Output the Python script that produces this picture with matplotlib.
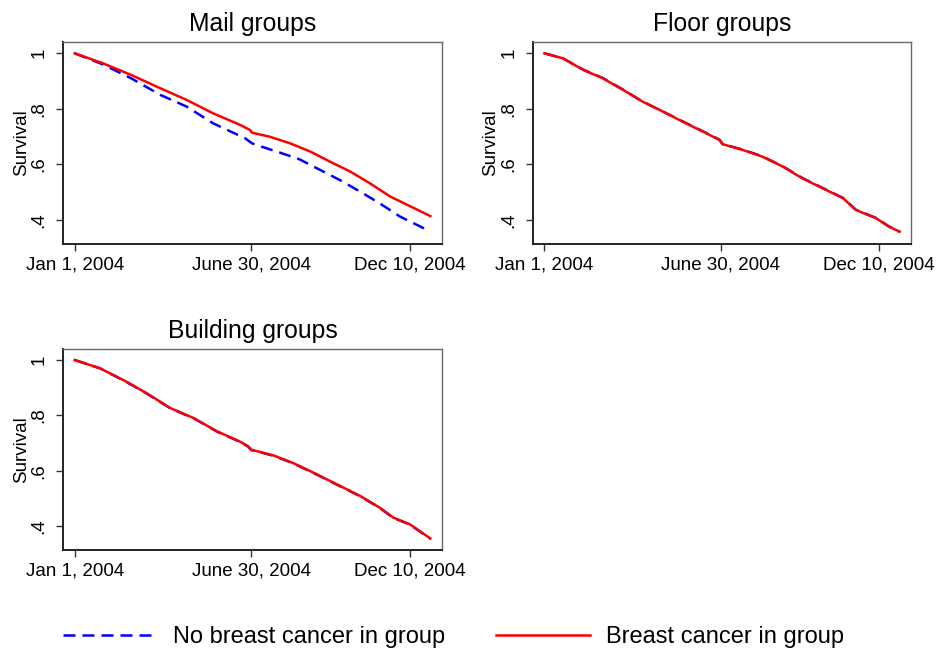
import matplotlib
matplotlib.use("Agg")
import matplotlib.pyplot as plt
from matplotlib.lines import Line2D

plt.rcParams['font.family'] = ['Liberation Sans', 'DejaVu Sans']

# ---- data (days since Jan 1, 2004 ; survival) ----
mail_red_days = [0, 29, 58, 88, 115, 142, 170, 180, 182, 200, 221, 242, 262, 283, 303, 324, 344, 365]
mail_red_surv = [1.0, 0.964, 0.922, 0.874, 0.832, 0.784, 0.742, 0.724, 0.714, 0.700, 0.676, 0.646, 0.610, 0.574, 0.532, 0.484, 0.450, 0.414]

mail_blue_days = [0, 29, 58, 88, 115, 142, 175, 182, 190, 211, 231, 252, 272, 293, 313, 334, 355, 365]
mail_blue_surv = [1.0, 0.960, 0.910, 0.850, 0.808, 0.748, 0.694, 0.676, 0.666, 0.642, 0.618, 0.580, 0.544, 0.502, 0.460, 0.412, 0.376, 0.358]

floor_red_days = [0, 19, 40, 60, 81, 101, 122, 142, 163, 180, 183, 204, 224, 245, 265, 286, 307, 320, 341, 354, 365]
floor_red_surv = [1.0, 0.982, 0.940, 0.910, 0.868, 0.826, 0.790, 0.754, 0.718, 0.688, 0.673, 0.652, 0.628, 0.592, 0.550, 0.514, 0.478, 0.436, 0.406, 0.376, 0.358]
floor_blue_days = [0, 19, 40, 60, 81, 101, 122, 142, 163, 180, 183, 204, 224, 245, 265, 286, 307, 320, 341, 354, 365]
floor_blue_surv = [1.0, 0.982, 0.941, 0.911, 0.869, 0.826, 0.790, 0.755, 0.719, 0.689, 0.673, 0.653, 0.629, 0.593, 0.551, 0.515, 0.479, 0.437, 0.407, 0.377, 0.358]

bldg_red_days = [0, 26, 53, 74, 98, 122, 146, 169, 178, 181, 204, 224, 245, 269, 293, 313, 327, 344, 365]
bldg_red_surv = [1.0, 0.970, 0.922, 0.880, 0.827, 0.791, 0.743, 0.707, 0.689, 0.677, 0.656, 0.629, 0.594, 0.552, 0.510, 0.468, 0.432, 0.408, 0.357]
bldg_blue_days = [0, 26, 53, 74, 98, 122, 146, 169, 178, 181, 204, 224, 245, 269, 293, 313, 327, 344, 365]
bldg_blue_surv = [1.0, 0.970, 0.921, 0.879, 0.826, 0.790, 0.742, 0.706, 0.688, 0.676, 0.655, 0.628, 0.593, 0.551, 0.509, 0.467, 0.431, 0.407, 0.356]

titles = ["Mail groups", "Floor groups", "Building groups"]
xtick_days = [0, 181, 344]
xtick_labels = ["Jan 1, 2004", "June 30, 2004", "Dec 10, 2004"]
ytick_vals = [0.4, 0.6, 0.8, 1.0]
ytick_labels = [".4", ".6", ".8", "1"]
legend_labels = ["No breast cancer in group", "Breast cancer in group"]

panels = [
    (titles[0], mail_blue_days, mail_blue_surv, mail_red_days, mail_red_surv),
    (titles[1], floor_blue_days, floor_blue_surv, floor_red_days, floor_red_surv),
    (titles[2], bldg_blue_days, bldg_blue_surv, bldg_red_days, bldg_red_surv),
]

W, H = 936, 650
fig = plt.figure(figsize=(W / 100, H / 100), dpi=100)

rects_px = [(63, 42, 442, 243.5), (532.7, 42, 911.3, 243.5), (63, 348.7, 442, 550)]

blue = '#0000ff'
red = '#ff0000'
lw = 1.8
dash = (4.8, 2.8)

for (title, bd, bs, rd, rs), (x0, y0, x1, y1) in zip(panels, rects_px):
    ax = fig.add_axes([x0 / W, 1 - y1 / H, (x1 - x0) / W, (y1 - y0) / H])
    ax.plot(bd, bs, color=blue, lw=lw, dashes=dash)
    ax.plot(rd, rs, color=red, lw=lw)
    ax.set_xlim(-12, 377)
    ax.set_ylim(0.3153, 1.0407)
    ax.set_xticks(xtick_days)
    ax.set_xticklabels(xtick_labels, fontsize=13.5)
    ax.set_yticks(ytick_vals)
    ax.set_yticklabels(ytick_labels, fontsize=13.5, rotation=90, va='center')
    ax.tick_params(axis='both', length=5, width=1.0, color='#333333')
    ax.tick_params(axis='x', pad=4)
    ax.tick_params(axis='y', pad=6)
    ax.set_ylabel("Survival", fontsize=13.5)
    ax.yaxis.set_label_coords(-0.088, 0.5)
    ax.set_title(title, fontsize=17.8, pad=8)
    for s in ['left', 'bottom']:
        ax.spines[s].set_color('#222222')
        ax.spines[s].set_linewidth(1.4)
    for s in ['top', 'right']:
        ax.spines[s].set_color('#6a6a6a')
        ax.spines[s].set_linewidth(1.0)

handles = [Line2D([], [], color=blue, lw=lw, dashes=dash),
           Line2D([], [], color=red, lw=lw)]
fig.legend(handles, legend_labels, loc='center', bbox_to_anchor=(0.4845, 0.02),
           ncol=2, frameon=False, fontsize=17, handlelength=4.0,
           handletextpad=0.64, columnspacing=2.16)

fig.savefig("out.png", dpi=100, facecolor='white')
